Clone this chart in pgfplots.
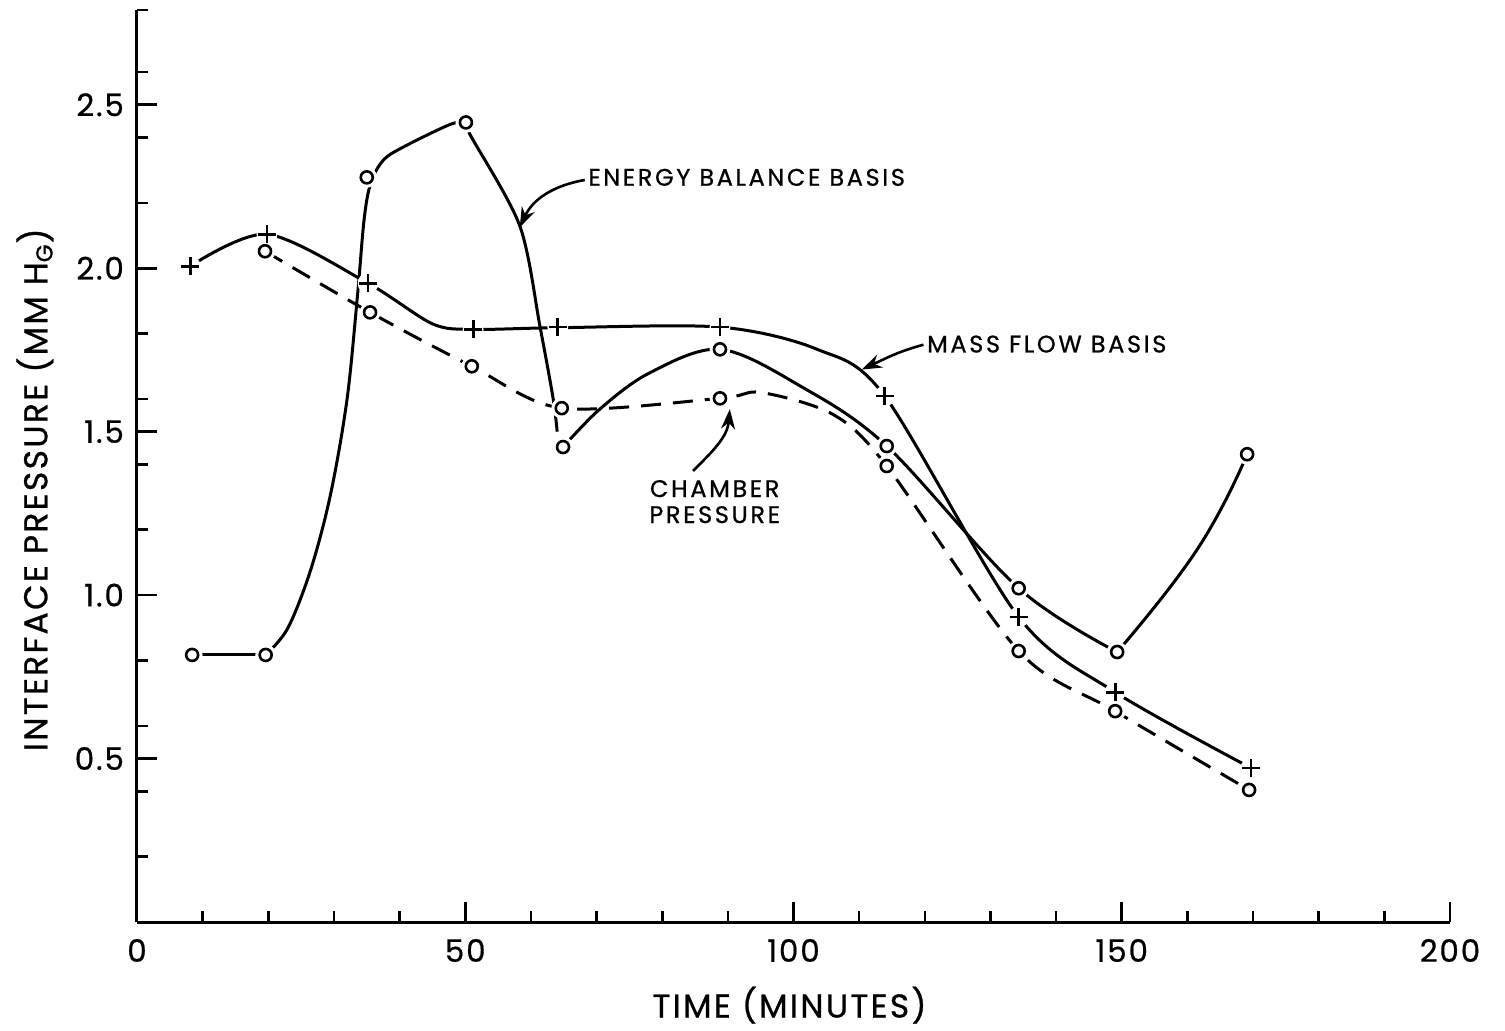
\documentclass[border=0pt]{standalone}
\usepackage{fontspec}
\setmainfont{Poppins}
\newfontfamily\lblfont{Poppins}[FakeBold=0.8, LetterSpace=7]
\newfontfamily\annfont{Poppins}[FakeBold=0.8, LetterSpace=11]
\newfontfamily\tickfont{Poppins}[FakeBold=0.6, LetterSpace=6]
\usepackage{pgfplots}
\pgfplotsset{compat=1.18}
\usetikzlibrary{arrows.meta}

\begin{document}
\begin{tikzpicture}
\path (-68.5pt,-53pt) rectangle (684pt,461pt);
\begin{axis}[
  at={(0,0)}, anchor=south west,
  scale only axis, width=656.5pt, height=456pt,
  xmin=0, xmax=200, ymin=0, ymax=2.79,
  axis lines=left,
  axis line style={-, line width=1.5pt, black},
  tick align=inside,
  tick style={line width=1.3pt, black},
  major tick length=10pt, minor tick length=5.5pt,
  xtick={0,50,100,150,200},
  xticklabels={0,50,100,150,200},
  minor xtick={10,20,30,40,60,70,80,90,110,120,130,140,160,170,180,190},
  ytick={0.5,1,1.5,2,2.5},
  yticklabels={0.5,1.0,1.5,2.0,2.5},
  minor ytick={0.2,0.4,0.6,0.8,1.2,1.4,1.6,1.8,2.2,2.4,2.6,2.79},
  ticklabel style={font=\tickfont\fontsize{15.5}{18}\selectfont},
  yticklabel style={xshift=-3pt},
  xticklabel style={yshift=-5pt},
  xlabel={TIME (MINUTES)},
  ylabel={INTERFACE PRESSURE (MM H\textsubscript{G})},
  label style={font=\lblfont\fontsize{16.5}{19}\selectfont},
  xlabel style={at={(axis description cs:0.497,-0.0912)}, anchor=center},
  ylabel style={at={(axis description cs:-0.0777,0.474)}, anchor=center},
  clip=false,
]
% ---- Energy balance basis (solid, circles)
\addplot[line width=1.5pt, black] coordinates {(8.4,0.817)(19.6,0.817)};
\addplot[line width=1.5pt, black, smooth, tension=0.55] coordinates {
  (19.6,0.817)(23,0.9)(26.5,1.08)(29.5,1.31)(32,1.6)(33.6,1.92)(34.6,2.15)
  (35.6,2.26)(37.5,2.33)(40.5,2.37)(47.7,2.44)(50.1,2.446)};
\addplot[line width=1.5pt, black, smooth, tension=0.5] coordinates {
  (50.1,2.446)(50.7,2.41)(58.3,2.13)(61.4,1.82)(63.4,1.60)(64,1.50)};
\addplot[line width=1.5pt, black, smooth, tension=0.55] coordinates {
  (64.9,1.453)(70.5,1.569)(78.1,1.68)(88.8,1.752)(101,1.64)(114.2,1.456)(134.3,1.021)(149.3,0.826)};
\addplot[line width=1.5pt, black, smooth, tension=0.8] coordinates {
  (149.3,0.826)(161.5,1.14)(169.1,1.431)};
% ---- Mass flow basis (solid, plus)
\addplot[line width=1.5pt, black, smooth, tension=0.5] coordinates {
  (8.1,2.006)(19.8,2.104)(35.2,1.954)(45,1.83)(51.2,1.813)(64.1,1.818)(88.8,1.82)(103.6,1.752)
  (113.9,1.609)(134.3,0.933)(149,0.703)(169.7,0.471)};
% ---- Chamber pressure (dashed, circles)
\addplot[line width=1.5pt, black, dash pattern=on 10pt off 6pt, smooth, tension=0.5] coordinates {
  (19.5,2.052)(35.5,1.865)(51,1.70)(64.7,1.572)(88.8,1.602)(95,1.62)(106,1.553)
  (114.2,1.395)(134.3,0.829)(149,0.645)(169.4,0.404)};
% ---- halos
\addplot[only marks, mark=*, mark size=5pt, white, mark options={draw=none, fill=white}] coordinates {
  (8.4,0.817)(19.6,0.817)(35,2.278)(50.1,2.446)(64.9,1.453)(88.8,1.752)(114.2,1.456)(134.3,1.021)(149.3,0.826)(169.1,1.431)
  (19.5,2.052)(35.5,1.865)(51,1.70)(64.7,1.572)(88.8,1.602)(114.2,1.395)(134.3,0.829)(149,0.645)(169.4,0.404)
  (8.1,2.006)(19.8,2.104)(35.2,1.954)(51.2,1.813)(64.1,1.82)(88.8,1.82)(113.9,1.609)(134.3,0.933)(149,0.703)(169.7,0.471)};
% ---- marks
\addplot[only marks, mark=o, mark size=3pt, black, mark options={line width=1.3pt, fill=white}] coordinates {
  (8.4,0.817)(19.6,0.817)(35,2.278)(50.1,2.446)(64.9,1.453)(88.8,1.752)(114.2,1.456)(134.3,1.021)(149.3,0.826)(169.1,1.431)};
\addplot[only marks, mark=o, mark size=3pt, black, mark options={line width=1.3pt, fill=white}] coordinates {
  (19.5,2.052)(35.5,1.865)(51,1.70)(64.7,1.572)(88.8,1.602)(114.2,1.395)(134.3,0.829)(149,0.645)(169.4,0.404)};
\addplot[only marks, mark=+, mark size=4.5pt, black, mark options={line width=1.4pt}] coordinates {
  (8.1,2.006)(19.8,2.104)(35.2,1.954)(51.2,1.813)(64.1,1.82)(88.8,1.82)(113.9,1.609)(134.3,0.933)(149,0.703)(169.7,0.471)};
% ---- annotations
\node[anchor=west, font=\annfont\fontsize{12}{14}\selectfont, inner sep=0pt] at (axis cs:68.7,2.278) {ENERGY BALANCE BASIS};
\draw[line width=1.3pt, -{Stealth[length=10pt,width=7pt]}] (axis cs:68.2,2.27) to[out=190,in=65] (axis cs:58.3,2.125);
\node[anchor=west, font=\annfont\fontsize{12}{14}\selectfont, inner sep=0pt] at (axis cs:120.3,1.768) {MASS FLOW BASIS};
\draw[line width=1.3pt, -{Stealth[length=10pt,width=7pt]}] (axis cs:119.8,1.766) to[out=195,in=25] (axis cs:110.4,1.69);
\node[font=\annfont\fontsize{12}{14}\selectfont, inner sep=0pt, align=center] at (axis cs:88.0,1.286) {CHAMBER\\[-1pt]PRESSURE};
\draw[line width=1.3pt, -{Stealth[length=10pt,width=7pt]}] (axis cs:84.7,1.38) to[out=45,in=-95] (axis cs:90.3,1.569);
\end{axis}
\end{tikzpicture}
\end{document}
